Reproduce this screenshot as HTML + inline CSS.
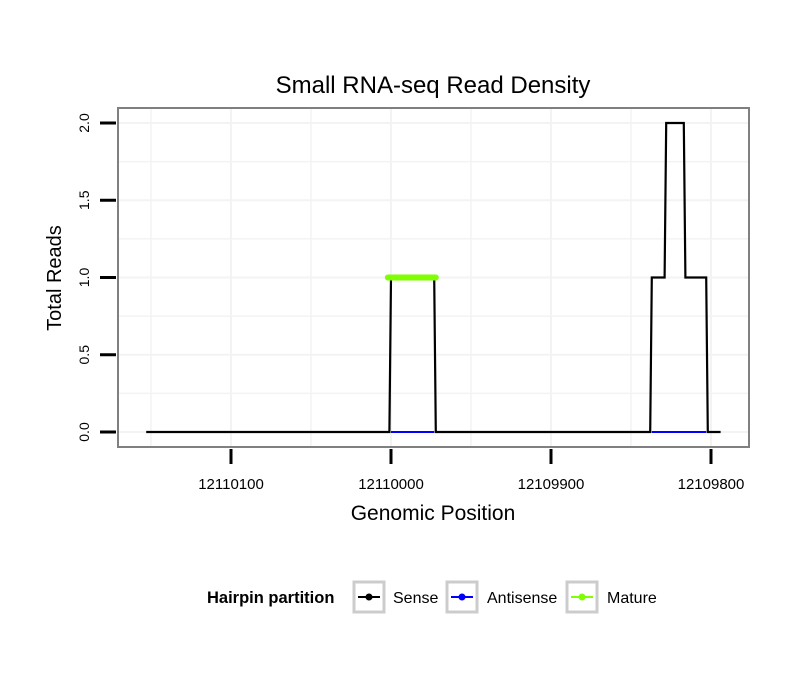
<!DOCTYPE html>
<html><head><meta charset="utf-8"><style>
body{margin:0;background:#fff;}
svg{font-family:"Liberation Sans",Arial,sans-serif;}
</style></head><body>
<svg id="chart" width="810" height="690" viewBox="0 0 810 690" xmlns="http://www.w3.org/2000/svg">
<rect width="810" height="690" fill="#fff"/>
<text x="433" y="93" text-anchor="middle" font-size="24">Small RNA-seq Read Density</text>
<g id="grid"></g>
<g id="series"></g>
<rect x="118" y="108" width="631" height="339" fill="none" stroke="#808080" stroke-width="2"/>
<g id="axes"></g>
<text x="433" y="520" text-anchor="middle" font-size="21">Genomic Position</text>
<text transform="translate(61,278) rotate(-90)" text-anchor="middle" font-size="20">Total Reads</text>
<g>
<text x="207" y="603" font-size="16.5" font-weight="bold">Hairpin partition</text>
<g>
<rect x="354" y="582" width="30" height="30" fill="#fff" stroke="#ccc" stroke-width="3"/>
<line x1="358" y1="597" x2="380" y2="597" stroke="#000" stroke-width="2"/><circle cx="369" cy="597" r="3.5" fill="#000"/>
<text x="393" y="603" font-size="16">Sense</text></g>
<g>
<rect x="447" y="582" width="30" height="30" fill="#fff" stroke="#ccc" stroke-width="3"/>
<line x1="451" y1="597" x2="473" y2="597" stroke="#00f" stroke-width="2"/><circle cx="462" cy="597" r="3.5" fill="#00f"/>
<text x="487" y="603" font-size="16">Antisense</text></g>
<g>
<rect x="567" y="582" width="30" height="30" fill="#fff" stroke="#ccc" stroke-width="3"/>
<line x1="571" y1="597" x2="593" y2="597" stroke="#7fff00" stroke-width="2"/><circle cx="582" cy="597" r="3.5" fill="#7fff00"/>
<text x="607" y="603" font-size="16">Mature</text></g>
</g>
</svg>
<script>
const xTicks=[12110100,12110000,12109900,12109800];
const xTickLabels=["12110100","12110000","12109900","12109800"];
const yTicks=[0,0.5,1,1.5,2];
const yTickLabels=["0.0","0.5","1.0","1.5","2.0"];
const sensePos=[12110153,12110001,12110000,12109973,12109972,12109838,12109837,12109829,12109828,12109817,12109816,12109803,12109802,12109794];
const senseVal=[0,0,1,1,0,0,1,1,2,2,1,1,0,0];
const antiSegStart=[12110000,12109837];
const antiSegEnd=[12109973,12109803];
const antiVal=[0,0];
const maturePos=[12110002,12109972];
const matureVal=[1,1];

const NS="http://www.w3.org/2000/svg";
const X=p=>391+(12110000-p)*1.6;
const Y=v=>432-v*154.5;
function mk(tag,attrs,parent){const e=document.createElementNS(NS,tag);for(const k in attrs)e.setAttribute(k,attrs[k]);parent.appendChild(e);return e;}
const grid=document.getElementById('grid'),series=document.getElementById('series'),axes=document.getElementById('axes');
for(let i=0;i<xTicks.length;i++){
 for(const p of [xTicks[i],xTicks[i]+50]){
  const px=X(p); if(px<120||px>747) continue;
  const l=mk('line',{x1:px,x2:px,y1:109,y2:446,stroke:'#f3f3f3','stroke-width':p===xTicks[i]?2:1.5},grid);
  
  
 }
}
for(let v=0;v<=2.01;v+=0.25){
 const l=mk('line',{x1:119,x2:748,y1:Y(v),y2:Y(v),stroke:'#f3f3f3','stroke-width':v%0.5===0?2:1.5},grid);
 
 
}
const sp=mk('polyline',{points:sensePos.map((p,i)=>X(p)+','+Y(senseVal[i])).join(' '),fill:'none',stroke:'#000','stroke-width':2.2},series);


for(let i=0;i<antiSegStart.length;i++){
 const l=mk('line',{x1:X(antiSegStart[i]),x2:X(antiSegEnd[i]),y1:Y(antiVal[i]),y2:Y(antiVal[i]),stroke:'#00f','stroke-width':2},series);
 
 
}
const m=mk('line',{x1:X(maturePos[0]),x2:X(maturePos[1]),y1:Y(matureVal[0]),y2:Y(matureVal[1]),stroke:'#7fff00','stroke-width':6,'stroke-linecap':'round'},series);


for(let i=0;i<xTicks.length;i++){
 const t=mk('line',{x1:X(xTicks[i]),x2:X(xTicks[i]),y1:449,y2:464,stroke:'#000','stroke-width':3},axes);
 
 
 const tx=mk('text',{x:X(xTicks[i]),y:489,'text-anchor':'middle','font-size':15},axes);
 tx.textContent=xTickLabels[i];
 
 
}
for(let i=0;i<yTicks.length;i++){
 const t=mk('line',{x1:100,x2:116,y1:Y(yTicks[i]),y2:Y(yTicks[i]),stroke:'#000','stroke-width':3},axes);
 
 
 const tx=mk('text',{transform:`translate(89,${Y(yTicks[i])}) rotate(-90)`,'text-anchor':'middle','font-size':14},axes);
 tx.textContent=yTickLabels[i];
 
 
}
</script>
</body></html>
